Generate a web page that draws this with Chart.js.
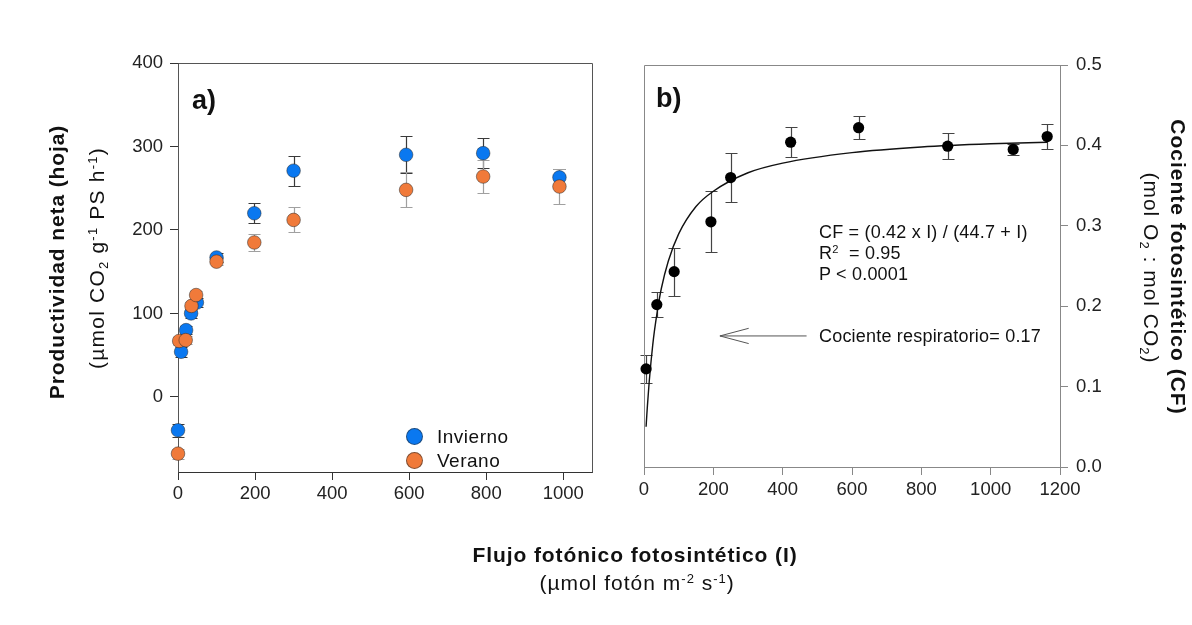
<!DOCTYPE html>
<html>
<head>
<meta charset="utf-8">
<script src="https://cdn.jsdelivr.net/npm/chart.js@4.4.1/dist/chart.umd.min.js"></script>
<style>
  html, body { margin:0; padding:0; background:#fff; }
  body { width:1192px; height:625px; position:relative; overflow:hidden;
         font-family:"Liberation Sans", Arial, sans-serif; color:#111; }
  .cv { position:absolute; top:0; }
  .t { position:absolute; white-space:nowrap; line-height:20px; }
  .rot { position:absolute; white-space:nowrap; line-height:24px; transform-origin:center center; }
  sup { font-size:0.62em; vertical-align:0.55em; line-height:0; }
  sub { font-size:0.62em; vertical-align:-0.3em; line-height:0; }
  .dot { position:absolute; width:17px; height:17px; border-radius:50%; box-sizing:border-box;
         border:1px solid rgba(40,40,40,0.55); }
</style>
</head>
<body>
<div class="cv" style="left:0;width:600px;height:625px;"><canvas id="cA" width="600" height="625"></canvas></div>
<div class="cv" style="left:600px;width:592px;height:625px;"><canvas id="cB" width="592" height="625"></canvas></div>

<!-- panel labels -->
<div class="t" style="left:192px;top:85px;font-size:27px;font-weight:bold;line-height:30px;">a)</div>
<div class="t" style="left:656px;top:83px;font-size:27px;font-weight:bold;line-height:30px;">b)</div>

<!-- legend -->
<div class="dot" style="left:406px;top:428px;background:#0A78F0;"></div>
<div class="t" style="left:437px;top:427px;font-size:19px;letter-spacing:0.5px;">Invierno</div>
<div class="dot" style="left:406px;top:452px;background:#F07A3A;"></div>
<div class="t" style="left:437px;top:451px;font-size:19px;letter-spacing:0.5px;">Verano</div>

<!-- annotations panel b -->
<div class="t" style="left:819px;top:222px;font-size:18px;letter-spacing:0.2px;">CF = (0.42 x I) / (44.7 + I)</div>
<div class="t" style="left:819px;top:243px;font-size:18px;letter-spacing:0.2px;">R<sup>2</sup>&nbsp; = 0.95</div>
<div class="t" style="left:819px;top:264px;font-size:18px;letter-spacing:0.2px;">P &lt; 0.0001</div>
<div class="t" style="left:819px;top:326px;font-size:18px;letter-spacing:0.2px;">Cociente respiratorio= 0.17</div>

<!-- axis titles -->
<div class="rot" id="yl1" style="font-size:21px;font-weight:bold;letter-spacing:0.9px;">Productividad neta (hoja)</div>
<div class="rot" id="yl2" style="font-size:21px;letter-spacing:1.2px;">(µmol CO<sub>2</sub> g<sup>-1</sup> PS h<sup>-1</sup>)</div>
<div class="rot" id="yr1" style="font-size:21px;font-weight:bold;letter-spacing:1px;">Cociente fotosintético (CF)</div>
<div class="rot" id="yr2" style="font-size:21px;letter-spacing:1px;">(mol O<sub>2</sub> : mol CO<sub>2</sub>)</div>
<div class="rot" id="xl1" style="font-size:21px;font-weight:bold;letter-spacing:0.9px;">Flujo fotónico fotosintético (I)</div>
<div class="rot" id="xl2" style="font-size:21px;letter-spacing:1px;">(µmol fotón m<sup>-2</sup> s<sup>-1</sup>)</div>

<script>
// ---------------- DATA ----------------
// Panel a) net productivity
const xInvierno = [0, 8, 21, 34, 49, 100, 198, 300, 592, 792, 990];
const yInvierno = [-40, 54, 80, 100, 113, 167, 220, 271, 290, 292, 263];
const eInvierno = [8, 6, 5, 5, 5, 5, 12, 18, 22, 18, 10];

const xVerano = [0, 3, 20, 35, 47, 100, 198, 300, 592, 792, 990];
const yVerano = [-68, 67, 68, 109, 122, 162, 185, 212, 248, 264, 252];
const eVerano = [6, 5, 5, 5, 5, 4, 10, 15, 21, 20, 21];

const xTicksA = [0, 200, 400, 600, 800, 1000];
const yTicksA = [0, 100, 200, 300, 400];

// Panel b) photosynthetic quotient
const xCF = [6, 37, 87, 193, 250, 423, 619, 876, 1065, 1163];
const yCF = [0.122, 0.202, 0.243, 0.305, 0.360, 0.404, 0.422, 0.399, 0.395, 0.411];
const eCF = [0.017, 0.016, 0.030, 0.038, 0.031, 0.019, 0.014, 0.016, 0.007, 0.016];

// fitted curve
const xFit = [6, 8, 10, 15, 20, 25, 30, 40, 50, 70, 100, 150, 200, 300, 400, 600, 800, 1000, 1163];
const yFit = [0.050, 0.064, 0.077, 0.106, 0.130, 0.151, 0.169, 0.198, 0.222, 0.256, 0.290, 0.324, 0.343, 0.366, 0.378, 0.391, 0.398, 0.402, 0.404];

const xTicksB = [0, 200, 400, 600, 800, 1000, 1200];
const yTicksB = [0, 0.1, 0.2, 0.3, 0.4, 0.5];

// arrow annotation (data coords): tip, tail, head
const arrowTip = {x: 219, y: 0.163};
const arrowTail = {x: 469, y: 0.163};
const arrowHeadX = 302, arrowHeadDy = 0.0095;

// ---------------- helpers ----------------
const FONT = '"Liberation Sans", Arial, sans-serif';
const pts = (xs, ys) => xs.map((x, i) => ({x, y: ys[i]}));

function place(id, cx, cy, rot) {
  const el = document.getElementById(id);
  const w = el.offsetWidth, h = el.offsetHeight;
  el.style.left = (cx - w / 2) + 'px';
  el.style.top = (cy - h / 2) + 'px';
  el.style.transform = 'rotate(' + rot + 'deg)';
}
place('yl1', 57, 262, -90);
place('yl2', 97, 258, -90);
place('yr1', 1177, 267, 90);
place('yr2', 1150, 268, 90);
place('xl1', 635, 555, 0);
place('xl2', 637, 583, 0);

const errorBars = {
  id: 'errorBars',
  beforeDatasetsDraw(chart) {
    const ctx = chart.ctx, xs = chart.scales.x, ys = chart.scales.y;
    chart.data.datasets.forEach(ds => {
      if (!ds.errors) return;
      ctx.save();
      ctx.strokeStyle = ds.errColor;
      ctx.lineWidth = 1.2;
      ds.data.forEach((p, i) => {
        const e = ds.errors[i];
        const px = Math.round(xs.getPixelForValue(p.x)) + 0.5;
        const t = Math.round(ys.getPixelForValue(p.y + e)) + 0.5;
        const b = Math.round(ys.getPixelForValue(p.y - e)) + 0.5;
        ctx.beginPath();
        ctx.moveTo(px, t); ctx.lineTo(px, b);
        ctx.moveTo(px - ds.capW, t); ctx.lineTo(px + ds.capW, t);
        ctx.moveTo(px - ds.capW, b); ctx.lineTo(px + ds.capW, b);
        ctx.stroke();
      });
      ctx.restore();
    });
  }
};

const frame = {
  id: 'frame',
  beforeDatasetsDraw(chart, args, opts) {
    const {ctx, chartArea: a} = chart;
    ctx.save();
    ctx.strokeStyle = opts.color;
    ctx.lineWidth = 1;
    ctx.beginPath();
    ctx.moveTo(Math.round(a.left) + 0.5, Math.round(a.bottom) + 0.5);
    ctx.lineTo(Math.round(a.left) + 0.5, Math.round(a.top) + 0.5);
    ctx.lineTo(Math.round(a.right) + 0.5, Math.round(a.top) + 0.5);
    ctx.lineTo(Math.round(a.right) + 0.5, Math.round(a.bottom) + 0.5);
    ctx.stroke();
    ctx.restore();
  }
};

const arrow = {
  id: 'arrow',
  afterDatasetsDraw(chart) {
    const ctx = chart.ctx, xs = chart.scales.x, ys = chart.scales.y;
    const tx = xs.getPixelForValue(arrowTip.x), ty = ys.getPixelForValue(arrowTip.y);
    const lx = xs.getPixelForValue(arrowTail.x);
    const hx = xs.getPixelForValue(arrowHeadX);
    const hy1 = ys.getPixelForValue(arrowTip.y + arrowHeadDy);
    const hy2 = ys.getPixelForValue(arrowTip.y - arrowHeadDy);
    ctx.save();
    ctx.strokeStyle = '#555';
    ctx.lineWidth = 1;
    ctx.beginPath();
    ctx.moveTo(lx, ty); ctx.lineTo(tx, ty);
    ctx.moveTo(hx, hy1); ctx.lineTo(tx, ty); ctx.lineTo(hx, hy2);
    ctx.stroke();
    ctx.restore();
  }
};

function axis(opts) {
  return Object.assign({
    type: 'linear',
    grid: {drawOnChartArea: false, drawTicks: true, tickLength: 8, color: opts.col, tickColor: opts.col},
    border: {display: true, color: opts.col, width: 1},
    ticks: {font: {family: FONT, size: 18.5}, color: '#222', padding: opts.pad || 4,
            callback: opts.fmt || (v => String(v))}
  }, opts.extra);
}

// ---------------- Chart a ----------------
new Chart(document.getElementById('cA'), {
  type: 'scatter',
  data: {
    datasets: [
      {
        label: 'Invierno', data: pts(xInvierno, yInvierno), errors: eInvierno,
        errColor: '#3a3a3a', capW: 6, order: 1, clip: false,
        backgroundColor: '#0A78F0', borderColor: 'rgba(40,40,40,0.5)', borderWidth: 1,
        pointRadius: 6.8
      },
      {
        label: 'Verano', data: pts(xVerano, yVerano), errors: eVerano,
        errColor: '#a0a0a0', capW: 6, order: 0, clip: false,
        backgroundColor: '#F07A3A', borderColor: 'rgba(40,40,40,0.5)', borderWidth: 1,
        pointRadius: 6.8
      }
    ]
  },
  options: {
    responsive: false, animation: false,
    layout: {padding: {top: 63, right: 7, left: 0, bottom: 0}},
    plugins: {legend: {display: false}, tooltip: {enabled: false}, frame: {color: '#555'}},
    scales: {
      x: axis({col: '#333', pad: 3, extra: {
        min: 0, max: 1075, position: 'bottom',
        afterBuildTicks: s => { s.ticks = xTicksA.map(v => ({value: v})); },
        afterFit: s => { s.height = 153; }
      }}),
      y: axis({col: '#333', pad: 7, extra: {
        min: -90, max: 400, position: 'left',
        afterBuildTicks: s => { s.ticks = yTicksA.map(v => ({value: v})); },
        afterFit: s => { s.width = 178; }
      }})
    }
  },
  plugins: [errorBars, frame]
});

// ---------------- Chart b ----------------
new Chart(document.getElementById('cB'), {
  type: 'scatter',
  data: {
    datasets: [
      {
        label: 'CF', data: pts(xCF, yCF), errors: eCF,
        errColor: '#444', capW: 6, order: 0, clip: false,
        backgroundColor: '#000', borderColor: '#000', borderWidth: 0,
        pointRadius: 5.6
      },
      {
        label: 'Ajuste', data: pts(xFit, yFit), showLine: true,
        borderColor: '#111', borderWidth: 1.4, pointRadius: 0,
        cubicInterpolationMode: 'monotone', order: 1, fill: false
      }
    ]
  },
  options: {
    responsive: false, animation: false,
    layout: {padding: {top: 65, right: 0, left: 44, bottom: 0}},
    plugins: {legend: {display: false}, tooltip: {enabled: false}, frame: {color: '#888'}},
    scales: {
      x: axis({col: '#888', pad: 4, extra: {
        min: 0, max: 1200, position: 'bottom',
        afterBuildTicks: s => { s.ticks = xTicksB.map(v => ({value: v})); },
        afterFit: s => { s.height = 158; }
      }}),
      y: axis({col: '#888', pad: 8, fmt: v => Number(v).toFixed(1), extra: {
        min: 0, max: 0.5, position: 'right',
        afterBuildTicks: s => { s.ticks = yTicksB.map(v => ({value: v})); },
        afterFit: s => { s.width = 132; }
      }})
    }
  },
  plugins: [errorBars, frame, arrow]
});
</script>
</body>
</html>
